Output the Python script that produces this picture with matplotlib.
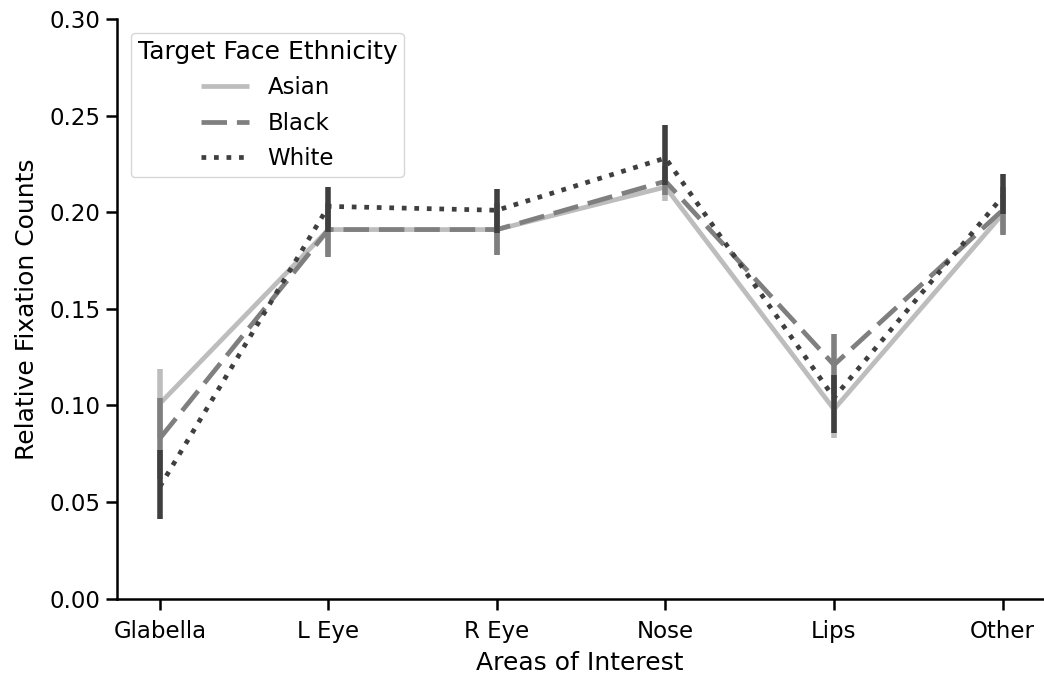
import matplotlib
matplotlib.use("Agg")
import matplotlib.pyplot as plt

areas = ["Glabella", "L Eye", "R Eye", "Nose", "Lips", "Other"]
groups = ["Asian", "Black", "White"]

asian_mean = [0.101, 0.191, 0.191, 0.213, 0.098, 0.199]
asian_lo   = [0.083, 0.178, 0.178, 0.206, 0.083, 0.189]
asian_hi   = [0.119, 0.204, 0.204, 0.221, 0.113, 0.209]

black_mean = [0.083, 0.191, 0.191, 0.216, 0.121, 0.201]
black_lo   = [0.062, 0.177, 0.178, 0.209, 0.106, 0.188]
black_hi   = [0.104, 0.205, 0.205, 0.224, 0.137, 0.213]

white_mean = [0.058, 0.203, 0.201, 0.228, 0.104, 0.208]
white_lo   = [0.041, 0.190, 0.189, 0.214, 0.086, 0.199]
white_hi   = [0.077, 0.213, 0.212, 0.245, 0.116, 0.220]

colors = ["#bdbdbd", "#7f7f7f", "#3f3f3f"]
styles = [(0, ()), (0, (5.4, 2.1)), (0, (1, 1.65))]

plt.rcParams['font.family'] = ['DejaVu Sans']
fig, ax = plt.subplots(figsize=(10.44, 6.75), dpi=100)
fig.subplots_adjust(left=0.112, right=0.999, top=0.972, bottom=0.113)

x = list(range(len(areas)))
data = [(asian_mean, asian_lo, asian_hi), (black_mean, black_lo, black_hi),
        (white_mean, white_lo, white_hi)]
for g, (m, lo, hi), c, ls in zip(groups, data, colors, styles):
    ax.vlines(x, lo, hi, colors=c, linewidth=4.0, zorder=2)
    ax.plot(x, m, color=c, linestyle=ls, linewidth=3.4, label=g, zorder=2)

ax.set_xticks(x)
ax.set_xticklabels(areas)
ax.set_xlim(-0.255, 5.24)
ax.set_ylim(0, 0.30)
ax.set_yticks([0, 0.05, 0.10, 0.15, 0.20, 0.25, 0.30])
ax.set_yticklabels(["0.00", "0.05", "0.10", "0.15", "0.20", "0.25", "0.30"])
ax.tick_params(labelsize=16.5, width=1.8, length=8, pad=4)
ax.tick_params(axis="x", pad=7)
for s in ["left", "bottom"]:
    ax.spines[s].set_linewidth(1.8)
for s in ["top", "right"]:
    ax.spines[s].set_visible(False)
ax.set_xlabel("Areas of Interest", fontsize=18, labelpad=6)
ax.set_ylabel("Relative Fixation Counts", fontsize=18, labelpad=7)

leg = ax.legend(title="Target Face Ethnicity", loc="upper left", fontsize=16.5,
                title_fontsize=18, handlelength=2.1, labelspacing=0.55,
                borderpad=0.3, borderaxespad=0.6)
fig.savefig("out.png", dpi=100)
